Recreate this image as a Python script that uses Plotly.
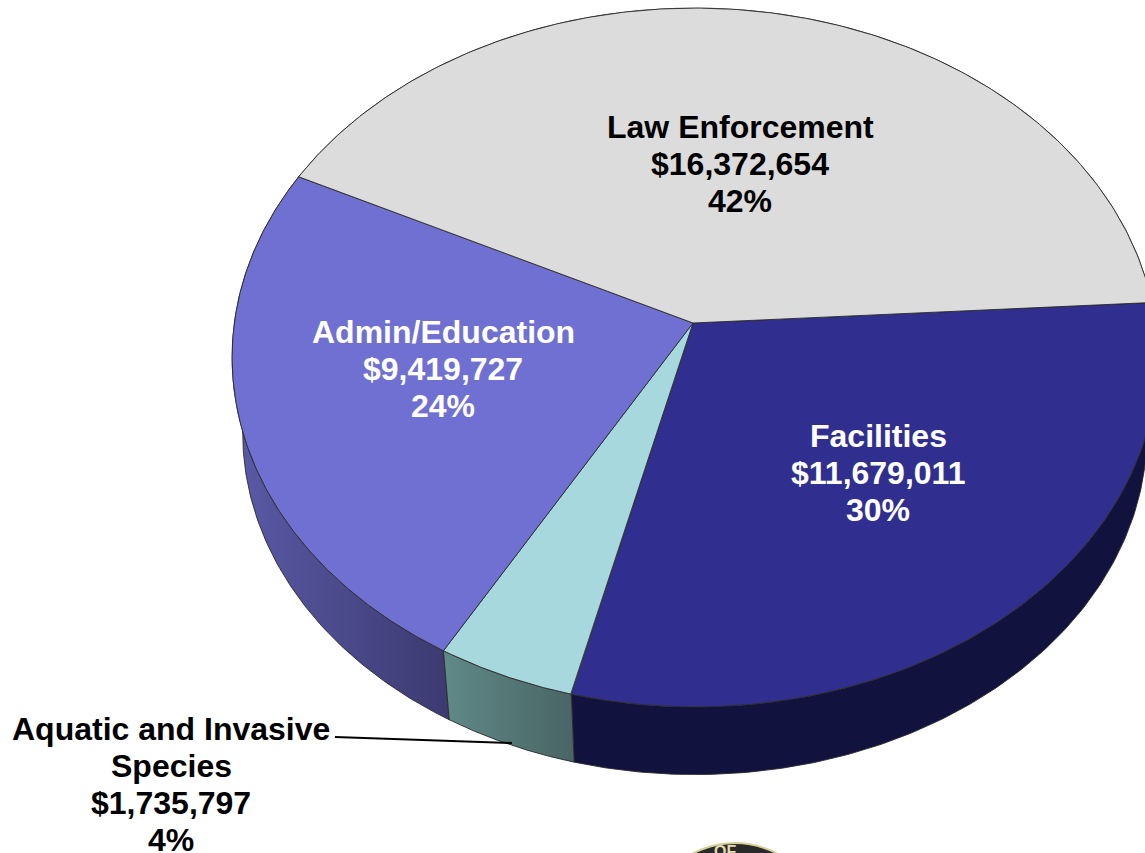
import numpy as np
import plotly.graph_objects as go

# ---- data ----
categories = ["Facilities", "Aquatic and Invasive Species", "Admin/Education", "Law Enforcement"]
values = [11679011, 1735797, 9419727, 16372654]
top_colors = ["#302f90", "#a6d8de", "#6f70d2", "#dcdcdc"]
side_left = ["#12123e", "#5f8a88", "#5a5aa8", "#b0b0b0"]
side_right = ["#12123e", "#4a6464", "#3c3a70", "#b0b0b0"]
label_colors = ["white", "black", "white", "black"]
label_lines = [["Facilities"], ["Aquatic and Invasive", "Species"], ["Admin/Education"], ["Law Enforcement"]]

# ---- projection of the tilted disc ----
START = -3.4
K = -0.0987
KX = -0.004
A, B = 460.5, 346.0
TOP = (693.0, 323.0, 1.0)
BOT = (693.0, 399.5, 0.977)


def project(deg, plane):
    x0, y0, s = plane
    t = np.radians(deg)
    w = 1 + K * np.sin(t) + KX * np.cos(t)
    return x0 + s * A * np.cos(t) / w, y0 + s * B * np.sin(t) / w


total = sum(values)
sweeps = [v / total * 360 for v in values]
edges = START + np.concatenate([[0], np.cumsum(sweeps)])

fig = go.Figure()
LINE = dict(color="#2a2a2a", width=0.9)

# rim
for i in [3, 0, 2, 1]:
    t = np.linspace(edges[i], edges[i + 1], 160)
    xt, yt = project(t, TOP)
    xb, yb = project(t, BOT)
    fig.add_trace(go.Scatter(
        x=np.r_[xt, xb[::-1], xt[0]], y=np.r_[yt, yb[::-1], yt[0]],
        mode="lines", fill="toself", line=LINE,
        fillgradient=dict(type="horizontal",
                          colorscale=[[0, side_left[i]], [1, side_right[i]]]),
        hoverinfo="skip", showlegend=False))

# top faces
for i in range(4):
    t = np.linspace(edges[i], edges[i + 1], 240)
    xa, ya = project(t, TOP)
    fig.add_trace(go.Scatter(
        x=np.r_[TOP[0], xa, TOP[0]], y=np.r_[TOP[1], ya, TOP[1]],
        mode="lines", fill="toself", fillcolor=top_colors[i], line=LINE,
        name=categories[i], showlegend=False))

# leader line
fig.add_trace(go.Scatter(x=[335, 512], y=[737, 743], mode="lines",
                         line=dict(color="black", width=2),
                         hoverinfo="skip", showlegend=False))

# labels
centres = [(878, 436), (171, 729), (443, 332), (740, 127)]
for i in range(4):
    lines = label_lines[i] + [f"${values[i]:,}", f"{round(values[i] / total * 100)}%"]
    cx, cy = centres[i]
    for j, s in enumerate(lines):
        fig.add_annotation(x=cx, y=cy + j * 37, text=s, showarrow=False,
                           xanchor="center", yanchor="middle",
                           font=dict(family="Liberation Sans", size=32,
                                     color=label_colors[i], weight="bold"))

# partly visible seal at the bottom edge
fig.add_shape(type="circle", x0=646, x1=824, y0=843, y1=1021,
              fillcolor="#2a2a2a", line=dict(color="#d8cf96", width=2), layer="above")
fig.add_annotation(x=725, y=851.5, text="OF", showarrow=False,
                   font=dict(family="Liberation Sans", size=16, color="#e4dcae", weight="bold"))

fig.update_xaxes(range=[0, 1145], visible=False, fixedrange=True)
fig.update_yaxes(range=[853, 0], visible=False, fixedrange=True)
fig.update_layout(width=1145, height=853, margin=dict(l=0, r=0, t=0, b=0),
                  paper_bgcolor="white", plot_bgcolor="white", showlegend=False)
fig.write_html("out.html", config=dict(displayModeBar=False), post_script="document.body.style.margin='0';")
